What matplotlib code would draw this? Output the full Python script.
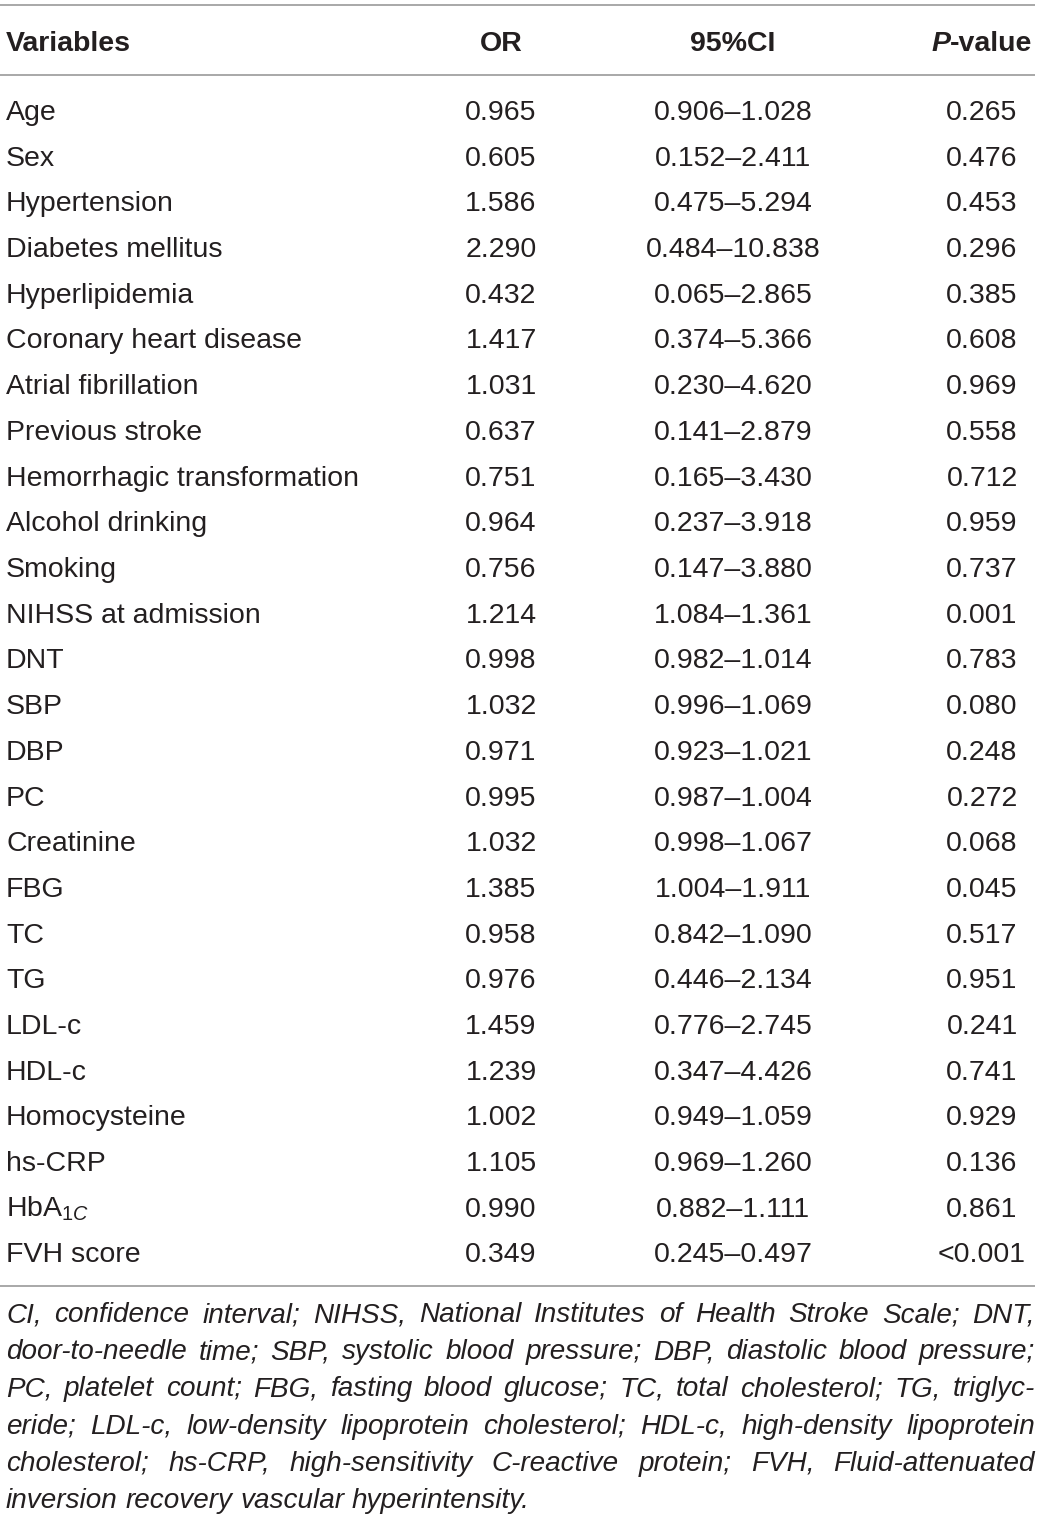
import matplotlib
matplotlib.use("Agg")
import matplotlib.pyplot as plt

plt.rcParams['font.family'] = ['Liberation Sans', 'DejaVu Sans']
plt.rcParams['mathtext.fontset'] = 'custom'
plt.rcParams['mathtext.rm'] = 'Liberation Sans'
plt.rcParams['mathtext.it'] = 'Liberation Sans:italic'

# table data
variables = ["Age", "Sex", "Hypertension", "Diabetes mellitus", "Hyperlipidemia",
             "Coronary heart disease", "Atrial fibrillation", "Previous stroke",
             "Hemorrhagic transformation", "Alcohol drinking", "Smoking",
             "NIHSS at admission", "DNT", "SBP", "DBP", "PC", "Creatinine", "FBG",
             "TC", "TG", "LDL-c", "HDL-c", "Homocysteine", "hs-CRP",
             r"HbA$_{1\mathit{C}}$", "FVH score"]
or_vals = ["0.965", "0.605", "1.586", "2.290", "0.432", "1.417", "1.031", "0.637",
           "0.751", "0.964", "0.756", "1.214", "0.998", "1.032", "0.971", "0.995",
           "1.032", "1.385", "0.958", "0.976", "1.459", "1.239", "1.002", "1.105",
           "0.990", "0.349"]
ci_lo = ["0.906", "0.152", "0.475", "0.484", "0.065", "0.374", "0.230", "0.141",
         "0.165", "0.237", "0.147", "1.084", "0.982", "0.996", "0.923", "0.987",
         "0.998", "1.004", "0.842", "0.446", "0.776", "0.347", "0.949", "0.969",
         "0.882", "0.245"]
ci_hi = ["1.028", "2.411", "5.294", "10.838", "2.865", "5.366", "4.620", "2.879",
         "3.430", "3.918", "3.880", "1.361", "1.014", "1.069", "1.021", "1.004",
         "1.067", "1.911", "1.090", "2.134", "2.745", "4.426", "1.059", "1.260",
         "1.111", "0.497"]
p_vals = ["0.265", "0.476", "0.453", "0.296", "0.385", "0.608", "0.969", "0.558",
          "0.712", "0.959", "0.737", "0.001", "0.783", "0.080", "0.248", "0.272",
          "0.068", "0.045", "0.517", "0.951", "0.241", "0.741", "0.929", "0.136",
          "0.861", "<0.001"]

footnote = [
    "CI, confidence interval; NIHSS, National Institutes of Health Stroke Scale; DNT,",
    "door-to-needle time; SBP, systolic blood pressure; DBP, diastolic blood pressure;",
    "PC, platelet count; FBG, fasting blood glucose; TC, total cholesterol; TG, triglyc-",
    "eride; LDL-c, low-density lipoprotein cholesterol; HDL-c, high-density lipoprotein",
    "cholesterol; hs-CRP, high-sensitivity C-reactive protein; FVH, Fluid-attenuated",
    "inversion recovery vascular hyperintensity.",
]

W, H = 1041, 1521
fig = plt.figure(figsize=(W / 100, H / 100), dpi=100)
ax = fig.add_axes([0, 0, 1, 1])
ax.set_xlim(0, W)
ax.set_ylim(H, 0)
ax.axis('off')

txt_color = '#231f20'
line_color = '#9a9a9a'
fs = 20.5
fs_note = 20.1
left, right = 6, 1035
x_or, x_ci, x_p = 501, 733, 982

renderer = fig.canvas.get_renderer()

def width(t):
    return t.get_window_extent(renderer=renderer).width

# rules
for y in [5, 75, 1286]:
    ax.plot([0, right], [y, y], color=line_color, lw=1.2, solid_capstyle='butt')

# header
hb = 51
ax.text(left, hb, "Variables", fontsize=fs, weight='bold', color=txt_color, va='baseline')
ax.text(x_or, hb, "OR", fontsize=fs, weight='bold', color=txt_color, va='baseline', ha='center')
ax.text(x_ci, hb, "95%CI", fontsize=fs, weight='bold', color=txt_color, va='baseline', ha='center')
tp = ax.text(0, hb, "P", fontsize=fs, weight='bold', style='italic', color=txt_color, va='baseline')
tv = ax.text(0, hb, "-value", fontsize=fs, weight='bold', color=txt_color, va='baseline')
wp, wv = width(tp), width(tv)
x0 = x_p - (wp + wv) / 2
tp.set_x(x0)
tv.set_x(x0 + wp)

# body rows
y0, dy = 120, 45.7
for i, name in enumerate(variables):
    y = y0 + i * dy
    ax.text(left, y, name, fontsize=fs, color=txt_color, va='baseline')
    ax.text(x_or, y, or_vals[i], fontsize=fs, color=txt_color, va='baseline', ha='center')
    ax.text(x_ci, y, ci_lo[i] + "\u2013" + ci_hi[i], fontsize=fs, color=txt_color,
            va='baseline', ha='center')
    ax.text(x_p, y, p_vals[i], fontsize=fs, color=txt_color, va='baseline', ha='center')

# justified italic footnote
fy0, fdy = 1322, 37.2
for j, line in enumerate(footnote):
    y = fy0 + j * fdy
    words = line.split(" ")
    texts = [ax.text(0, y, w, fontsize=fs_note, style='italic', color=txt_color,
                     va='baseline') for w in words]
    widths = [width(t) for t in texts]
    if j == len(footnote) - 1:
        sp = width(ax.text(0, 0, "a a", fontsize=fs_note, style='italic', alpha=0)) \
            - 2 * width(ax.text(0, 0, "a", fontsize=fs_note, style='italic', alpha=0))
    else:
        sp = (right - left - sum(widths)) / (len(words) - 1)
    x = left
    for t, w in zip(texts, widths):
        t.set_x(x)
        x += w + sp

fig.savefig("out.png", dpi=100)
